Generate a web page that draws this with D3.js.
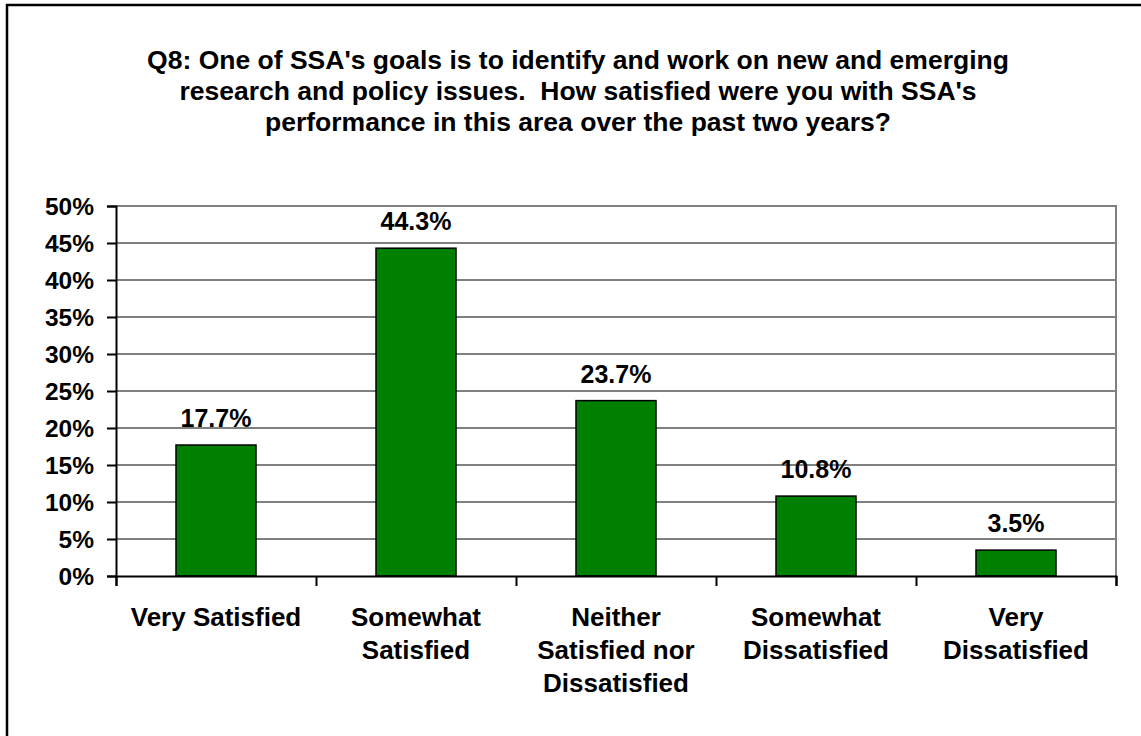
<!DOCTYPE html>
<html>
<head>
<meta charset="utf-8">
<script src="https://cdn.jsdelivr.net/npm/d3@7"></script>
<style>
  body { margin: 0; background: #fff; }
  svg { display: block; }
  text { font-family: "Liberation Sans", Arial, sans-serif; font-weight: bold; fill: #000; }
</style>
</head>
<body>
<svg id="chart" width="1141" height="736"></svg>
<script>
// data
const categories = [
  ["Very Satisfied"],
  ["Somewhat", "Satisfied"],
  ["Neither", "Satisfied nor", "Dissatisfied"],
  ["Somewhat", "Dissatisfied"],
  ["Very", "Dissatisfied"]
];
const values = [17.7, 44.3, 23.7, 10.8, 3.5];
const yTicks = [0, 5, 10, 15, 20, 25, 30, 35, 40, 45, 50];
const titleLines = [
  "Q8: One of SSA's goals is to identify and work on new and emerging",
  "research and policy issues.  How satisfied were you with SSA's",
  "performance in this area over the past two years?"
];

const svg = d3.select("#chart");
const plot = {left: 116, right: 1116, top: 206, bottom: 576};

// outer frame, runs off the right and bottom edges
svg.append("rect")
  .attr("x", 7).attr("y", 5)
  .attr("width", 1200).attr("height", 800)
  .attr("fill", "none").attr("stroke", "#000").attr("stroke-width", 2.5);

// title
svg.append("text")
  .attr("text-anchor", "middle")
  .style("font-size", "26.5px")
  .selectAll("tspan")
  .data(titleLines)
  .enter()
  .append("tspan")
  .attr("x", 578)
  .attr("y", (d, i) => 69 + i * 31)
  .style("white-space", "pre")
  .text(d => d);

const x = d3.scaleBand()
  .domain(d3.range(categories.length))
  .range([plot.left, plot.right])
  .paddingInner(0.6)
  .paddingOuter(0.3);

const y = d3.scaleLinear()
  .domain([0, 50])
  .range([plot.bottom, plot.top]);

// gridlines
svg.append("g")
  .selectAll("line")
  .data(yTicks.filter(t => t > 0 && t < 50))
  .enter()
  .append("line")
  .attr("x1", plot.left).attr("x2", plot.right)
  .attr("y1", d => y(d)).attr("y2", d => y(d))
  .attr("stroke", "#000").attr("stroke-width", 1);

// plot area border (gray top / right)
svg.append("path")
  .attr("d", `M${plot.left},${plot.top}H${plot.right}V${plot.bottom}`)
  .attr("fill", "none").attr("stroke", "#808080").attr("stroke-width", 2);

// bars
svg.append("g")
  .selectAll("rect")
  .data(values)
  .enter()
  .append("rect")
  .attr("x", (d, i) => x(i))
  .attr("y", d => y(d))
  .attr("width", x.bandwidth())
  .attr("height", d => y(0) - y(d))
  .attr("fill", "#008000")
  .attr("stroke", "#000").attr("stroke-width", 1.5);

// value labels
svg.append("g")
  .selectAll("text")
  .data(values)
  .enter()
  .append("text")
  .attr("x", (d, i) => x(i) + x.bandwidth() / 2)
  .attr("y", d => y(d) - 18)
  .attr("text-anchor", "middle")
  .style("font-size", "25px")
  .text(d => d.toFixed(1) + "%");

// y axis
const yAxis = svg.append("g")
  .attr("transform", `translate(${plot.left},0)`)
  .call(d3.axisLeft(y).tickValues(yTicks).tickSize(9).tickPadding(13).tickFormat(d => d + "%"));
yAxis.select(".domain").attr("stroke", "#000").attr("stroke-width", 2);
yAxis.selectAll(".tick line").attr("stroke", "#000").attr("stroke-width", 2);
yAxis.selectAll(".tick text")
  .style("font-size", "24.5px")
  .style("font-family", "'Liberation Sans', Arial, sans-serif")
  .attr("dy", "0.36em");

// x axis: ticks at category boundaries
const bounds = d3.scaleLinear().domain([0, categories.length]).range([plot.left, plot.right]);
const xAxis = svg.append("g")
  .attr("transform", `translate(0,${plot.bottom})`)
  .call(d3.axisBottom(bounds).ticks(categories.length).tickSize(10).tickFormat(""));
xAxis.select(".domain").attr("stroke", "#000").attr("stroke-width", 2);
xAxis.selectAll(".tick line").attr("stroke", "#000").attr("stroke-width", 2);

// category labels
svg.append("g")
  .selectAll("text")
  .data(categories)
  .enter()
  .append("text")
  .attr("text-anchor", "middle")
  .style("font-size", "26px")
  .each(function(lines, i) {
    d3.select(this).selectAll("tspan")
      .data(lines)
      .enter()
      .append("tspan")
      .attr("x", x(i) + x.bandwidth() / 2)
      .attr("y", (d, j) => 626 + j * 33)
      .text(d => d);
  });
</script>
</body>
</html>
